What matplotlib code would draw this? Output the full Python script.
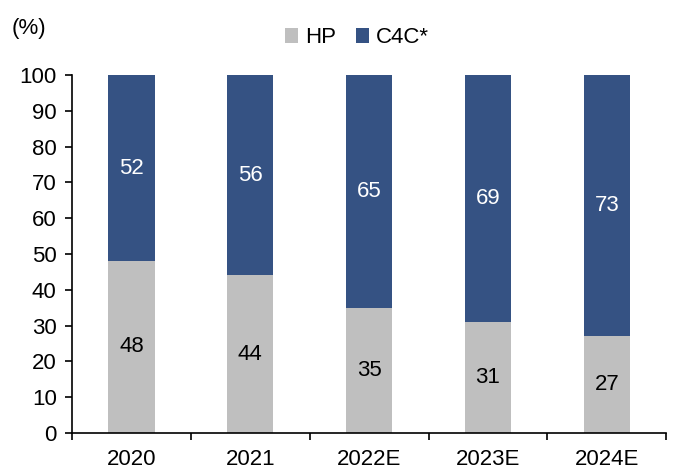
import matplotlib
matplotlib.use("Agg")
import matplotlib.pyplot as plt
import numpy as np

plt.rcParams["font.family"] = ["Liberation Sans", "DejaVu Sans"]

years = ["2020", "2021", "2022E", "2023E", "2024E"]
hp = [48, 44, 35, 31, 27]
c4c = [52, 56, 65, 69, 73]

gray = "#BFBFBF"
blue = "#355283"
fs = 16

fig = plt.figure(figsize=(6.73, 4.73), dpi=100)
ax = fig.add_axes([0.107, 0.085, 0.883, 0.756])

x = np.arange(len(years))
w = 0.39
b1 = ax.bar(x, hp, w, color=gray, label="HP")
b2 = ax.bar(x, c4c, w, bottom=hp, color=blue, label="C4C*")

for i in range(len(years)):
    ax.text(x[i], hp[i] / 2, str(hp[i]), ha="center", va="center",
            fontsize=fs, color="black")
    ax.text(x[i], hp[i] + c4c[i] / 2, str(c4c[i]), ha="center", va="center",
            fontsize=fs, color="white")

ax.set_xlim(-0.5, len(years) - 0.5)
ax.set_ylim(0, 100)
ax.set_yticks(range(0, 101, 10))
ax.tick_params(axis="y", labelsize=fs, direction="out", length=5, width=1.2, pad=6)
ax.set_xticks(x)
ax.set_xticklabels(years)
ax.tick_params(axis="x", which="major", length=0, labelsize=fs, pad=12)
ax.set_xticks(np.arange(-0.5, len(years), 1), minor=True)
ax.tick_params(axis="x", which="minor", length=5, width=1.2, direction="out")

for s in ["top", "right"]:
    ax.spines[s].set_visible(False)
for s in ["left", "bottom"]:
    ax.spines[s].set_linewidth(1.2)

fig.text(0.018, 0.94, "(%)", fontsize=fs, ha="left", va="center")
fig.legend(handles=[b1, b2], loc="center", bbox_to_anchor=(0.53, 0.92),
           ncol=2, frameon=False, fontsize=fs, handlelength=0.6,
           handleheight=0.6, handletextpad=0.3, columnspacing=0.9)

fig.savefig("out.png", dpi=100)
